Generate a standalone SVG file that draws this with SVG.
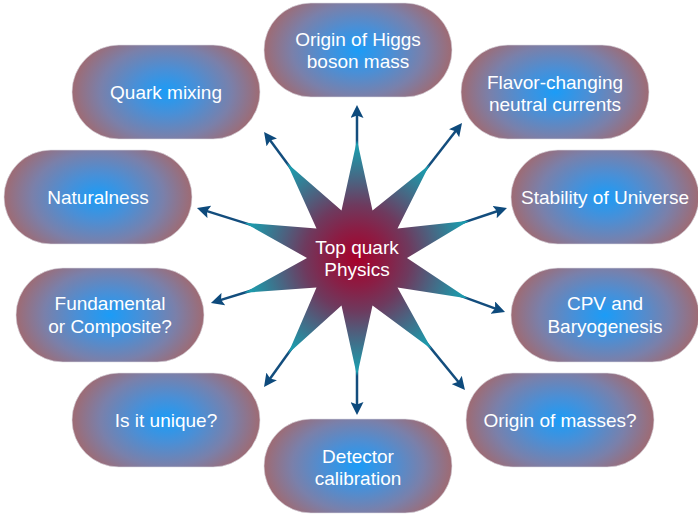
<svg xmlns="http://www.w3.org/2000/svg" width="698" height="514" viewBox="0 0 698 514">
<defs>
<radialGradient id="pill" cx="0.5" cy="0.5" r="0.5" gradientTransform="translate(0.5,0.5) scale(1,1.4) translate(-0.5,-0.5)">
<stop offset="0" stop-color="#1b9cf7"/>
<stop offset="0.35" stop-color="#4a8fd6"/>
<stop offset="0.7" stop-color="#7a80aa"/>
<stop offset="1" stop-color="#9e6b74"/>
</radialGradient>
<radialGradient id="star" gradientUnits="userSpaceOnUse" cx="357" cy="258" r="118">
<stop offset="0" stop-color="#a8002a"/>
<stop offset="0.25" stop-color="#8a1e45"/>
<stop offset="0.45" stop-color="#6e3a5e"/>
<stop offset="0.65" stop-color="#4c6280"/>
<stop offset="0.85" stop-color="#2a8a9e"/>
<stop offset="1" stop-color="#15a5b5"/>
</radialGradient>
<marker id="ah" viewBox="0 0 13 13" refX="5" refY="6.5" markerWidth="13" markerHeight="13" markerUnits="userSpaceOnUse" orient="auto">
<path d="M0,0 L13,6.5 L0,13 L2.5,6.5 z" fill="#0d4a7c"/>
</marker>
</defs>
<style>
.node rect{fill:url(#pill);stroke:#dcdce4;stroke-width:0.6}
text{font-family:"Liberation Sans",Arial,Helvetica,sans-serif;font-size:19px;fill:#ffffff;text-anchor:middle}
.conn line{stroke:#134d7d;stroke-width:2.5;marker-end:url(#ah)}
</style>
<g id="connectors" class="conn">
<line x1="357" y1="158" x2="357" y2="113"/>
<line x1="418.4" y1="179.1" x2="457.1" y2="129.3"/>
<line x1="451.9" y1="226.4" x2="499.4" y2="210.5"/>
<line x1="451" y1="292.3" x2="497.5" y2="309.3"/>
<line x1="420.3" y1="335.4" x2="459.9" y2="383.8"/>
<line x1="357" y1="358" x2="357" y2="407"/>
<line x1="298.5" y1="339.1" x2="268.7" y2="380.5"/>
<line x1="261.4" y1="287.5" x2="218.6" y2="300.6"/>
<line x1="261.5" y1="228.2" x2="204.6" y2="210.4"/>
<line x1="297.6" y1="177.5" x2="268.8" y2="138.4"/>
</g>
<g id="center">
<polygon fill="url(#star)" points="357,140 372.5,210.4 429.5,164.8 397.5,228.6 469,220.7 407,258 467.9,298.5 397.5,287.4 431.7,349.3 372.5,305.6 357,376 341.5,305.6 288,353.7 316.5,287.4 244.2,292.8 307,258 244.3,222.8 316.5,228.6 286.9,163 341.5,210.4"/>
<text x="357" y="254">Top quark</text>
<text x="357" y="276">Physics</text>
</g>
<g id="n-higgs" class="node"><rect x="264" y="3" width="188" height="94" rx="47"/><text x="358" y="45.5">Origin of Higgs</text><text x="358" y="67.5">boson mass</text></g>
<g id="n-quark" class="node"><rect x="72" y="45" width="188" height="94" rx="47"/><text x="166" y="99">Quark mixing</text></g>
<g id="n-flavor" class="node"><rect x="461" y="45" width="188" height="94" rx="47"/><text x="555" y="88.5">Flavor-changing</text><text x="555" y="110.5">neutral currents</text></g>
<g id="n-natural" class="node"><rect x="4" y="150" width="188" height="94" rx="47"/><text x="98" y="203.5">Naturalness</text></g>
<g id="n-stability" class="node"><rect x="511" y="150" width="188" height="94" rx="47"/><text x="605" y="204">Stability of Universe</text></g>
<g id="n-fund" class="node"><rect x="16" y="268" width="188" height="94" rx="47"/><text x="110" y="310">Fundamental</text><text x="110" y="332.5">or Composite?</text></g>
<g id="n-cpv" class="node"><rect x="511" y="268" width="188" height="94" rx="47"/><text x="605" y="310">CPV and</text><text x="605" y="332.5">Baryogenesis</text></g>
<g id="n-unique" class="node"><rect x="72" y="373" width="188" height="94" rx="47"/><text x="166" y="427">Is it unique?</text></g>
<g id="n-masses" class="node"><rect x="466" y="373" width="188" height="94" rx="47"/><text x="560" y="427">Origin of masses?</text></g>
<g id="n-detector" class="node"><rect x="264" y="419" width="188" height="94" rx="47"/><text x="358" y="462.5">Detector</text><text x="358" y="484.5">calibration</text></g>
</svg>
